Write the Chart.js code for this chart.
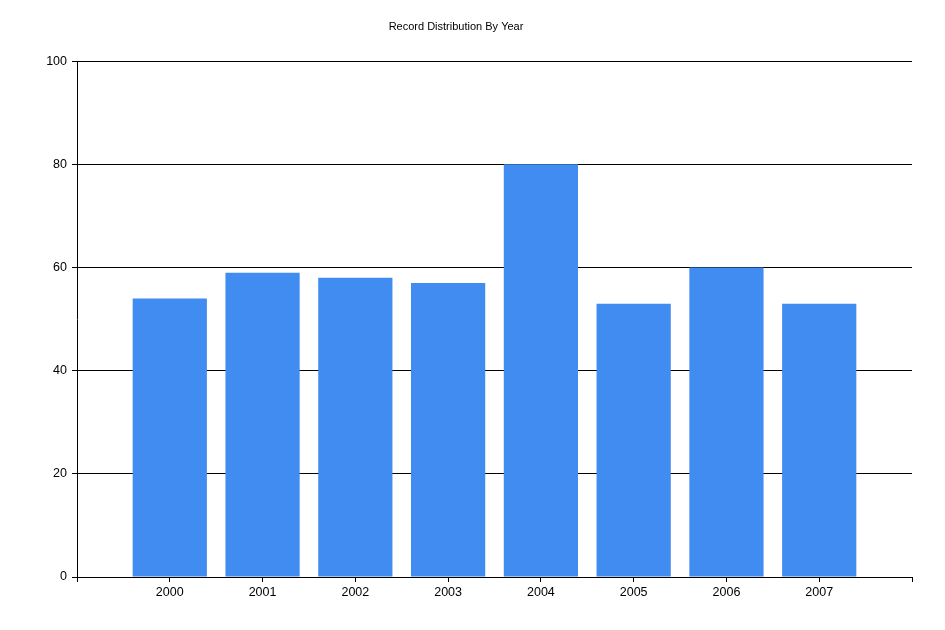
<!DOCTYPE html>
<html>
<head>
<meta charset="utf-8">
<script src="https://cdn.jsdelivr.net/npm/chart.js@4/dist/chart.umd.min.js"></script>
<style>
  html, body { margin: 0; padding: 0; background: #fff; }
  #wrap { width: 945px; height: 630px; position: relative; }
</style>
</head>
<body>
<div id="wrap"><canvas id="chart"></canvas></div>
<script>
// Данные графика
const years = ['2000', '2001', '2002', '2003', '2004', '2005', '2006', '2007'];
const records = [54, 59, 58, 57, 80, 53, 60, 53];
const yTicks = [0, 20, 40, 60, 80, 100];

// Пустые позиции по краям оси, как в оригинале
const labels = [''].concat(years, ['']);
const values = [null].concat(records, [null]);

const ctx = document.getElementById('chart').getContext('2d');
new Chart(ctx, {
    type: 'bar',
    data: {
        labels: labels,
        datasets: [{
            label: 'Records',
            data: values,
            backgroundColor: '#418cf0',
            borderWidth: 0,
            categoryPercentage: 0.8,
            barPercentage: 1.0
        }]
    },
    options: {
        responsive: true,
        maintainAspectRatio: false,
        animation: false,
        devicePixelRatio: 1,
        layout: { padding: { left: 0, right: 33, top: 0, bottom: 0 } },
        plugins: {
            legend: { display: false },
            tooltip: { enabled: false },
            title: {
                display: true,
                text: 'Record Distribution By Year',
                color: '#000',
                font: { family: 'Liberation Sans', size: 11, weight: 'normal' },
                padding: { top: 20, bottom: 28 }
            }
        },
        scales: {
            x: {
                type: 'category',
                offset: false,
                grid: {
                    offset: false,
                    drawOnChartArea: false,
                    drawTicks: true,
                    tickLength: 5,
                    color: '#000'
                },
                border: { color: '#000', width: 1 },
                ticks: {
                    color: '#000',
                    font: { family: 'Liberation Sans', size: 12.5 },
                    padding: 3,
                    maxRotation: 0,
                    autoSkip: false
                },
                afterFit: function(scale) { scale.height = 53; }
            },
            y: {
                min: yTicks[0],
                max: yTicks[yTicks.length - 1],
                afterBuildTicks: function(scale) {
                    scale.ticks = yTicks.map(v => ({ value: v }));
                },
                grid: {
                    color: '#000',
                    lineWidth: 1,
                    drawTicks: true,
                    tickLength: 5
                },
                border: { color: '#000', width: 1 },
                ticks: {
                    color: '#000',
                    font: { family: 'Liberation Sans', size: 12.5 },
                    padding: 5
                },
                afterFit: function(scale) { scale.width = 77; }
            }
        }
    }
});
</script>
</body>
</html>
